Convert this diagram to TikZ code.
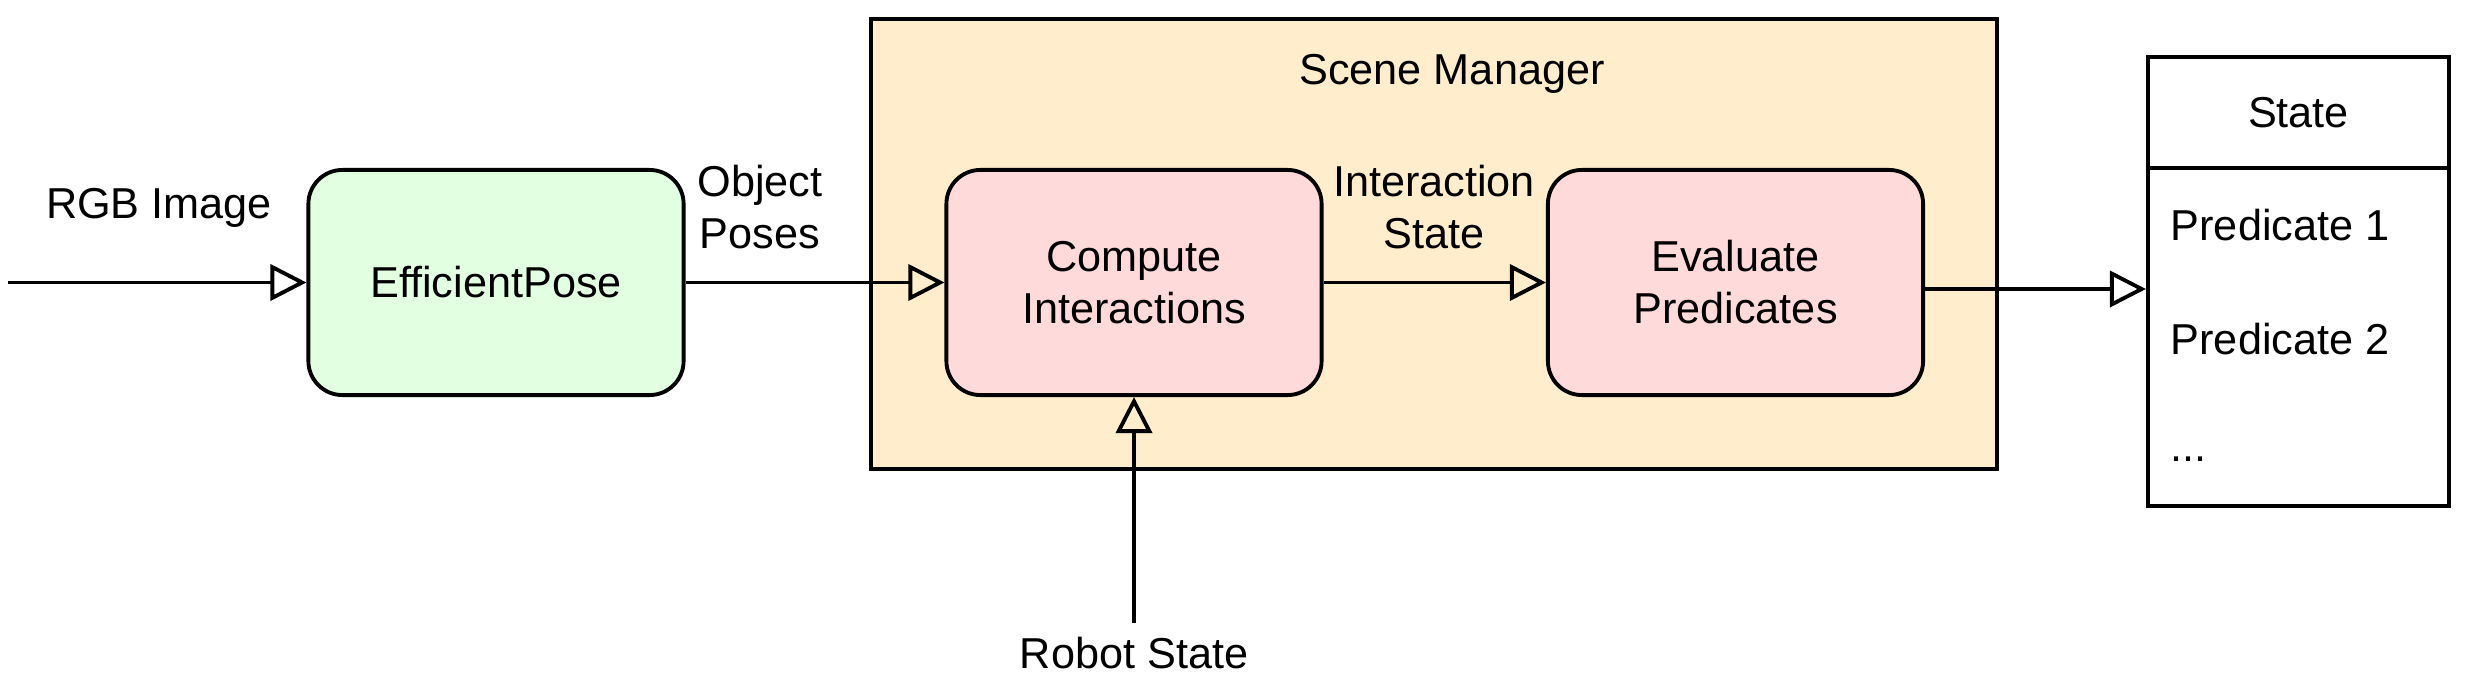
\documentclass[tikz,border=0pt]{standalone}
\usepackage{fontspec}
\setmainfont{Liberation Sans}
\usepackage{tikz}
\usetikzlibrary{arrows.meta}
\definecolor{posegreen}{HTML}{E2FFE2}
\definecolor{procpink}{HTML}{FFDADA}
\definecolor{managerpeach}{HTML}{FFEDCC}

\begin{document}
\begin{tikzpicture}[x=0.01cm, y=-0.01cm,
		every node/.style={font=\fontsize{12.3pt}{14.8pt}\selectfont},
		block/.style={draw, line width=1.1pt, rounded corners=0.34cm, minimum width=3.75cm, minimum height=2.25cm, align=center},
		statebox/.style={draw, line width=1.1pt, fill=white, minimum width=3.01cm},
		flow/.style={line width=1.1pt, -{Triangle[open, length=0.36cm, width=0.36cm]}}]
								\useasboundingbox (0, 0) rectangle (2466, 679);
								\node[draw, line width=1.1pt, fill=managerpeach, minimum width=11.26cm, minimum height=4.5cm] (manager) at (1434, 244) {};
								\node (managertitle) at (1452, 74) {Scene Manager};
								\node[block, fill=posegreen] (pose) at (496, 282.5) {EfficientPose};
								\node[block, fill=procpink] (compute) at (1134, 282.5) {Compute\\Interactions};
								\node[block, fill=procpink] (evaluate) at (1735.5, 282.5) {Evaluate\\Predicates};
								\node[statebox, minimum height=1.11cm] (statehead) at (2298.5, 112.5) {State};
								\node[statebox, minimum height=3.38cm] (statebody) at (2298.5, 337) {};
								\foreach \y/\txt in {241/{Predicate 1}, 354/{Predicate 2}, 461/{{...}}}
									\node[anchor=base west, inner sep=0pt] at (2170, \y) {\txt};
								\coordinate (imagein) at (8, 282.5);
								\node (rgblabel) at (159, 208) {RGB Image};
								\node[align=center] (poselabel) at (760, 207) {Object\\Poses};
								\node[align=center] (interlabel) at (1434, 207) {Interaction\\State};
								\node (robot) at (1134, 653) {Robot State};
								\draw[flow] (imagein) -- (pose);
								\draw[flow] (pose) -- (compute);
								\draw[flow] (compute) -- (evaluate);
								\draw[flow] ([yshift=-0.065cm]evaluate.east) -- ([yshift=-0.065cm]evaluate.east -| statebody.west);
								\draw[flow] ([yshift=0.02cm]robot.north) -- (compute);
							\end{tikzpicture}
\end{document}
